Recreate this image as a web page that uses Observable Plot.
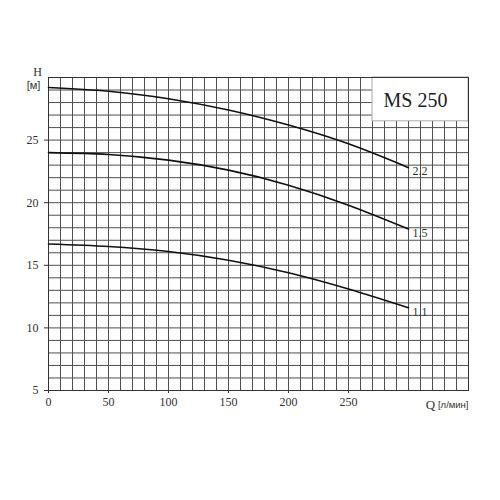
<!DOCTYPE html>
<html>
<head>
<meta charset="utf-8">
<script src="https://cdn.jsdelivr.net/npm/d3@7"></script>
<script src="https://cdn.jsdelivr.net/npm/@observablehq/plot@0.6"></script>
<style>
  body { margin: 0; background: #fff; }
</style>
</head>
<body>
<div id="chart"></div>
<script>
// Data
const flowQ = [0, 50, 100, 150, 200, 250, 300];
const head22 = [29.2, 28.9, 28.3, 27.4, 26.2, 24.7, 22.8];
const head15 = [24.0, 23.85, 23.4, 22.6, 21.4, 19.8, 17.9];
const head11 = [16.7, 16.5, 16.1, 15.4, 14.4, 13.1, 11.6];
const seriesNames = ["2.2", "1.5", "1.1"];
const xTicks = [0, 50, 100, 150, 200, 250];
const yTicks = [5, 10, 15, 20, 25];
const xGridValues = d3.range(0, 351, 10);
const yGridValues = d3.range(5, 31, 1);
const modelName = "MS 250";
const titleBox = [{q1: 270, q2: 350, h1: 26.5, h2: 30}];

const allSeries = [head22, head15, head11];
const rows = [];
allSeries.forEach((vals, i) => {
  vals.forEach((h, j) => rows.push({series: seriesNames[i], q: flowQ[j], h}));
});
const ends = allSeries.map((vals, i) => ({series: seriesNames[i], q: flowQ[flowQ.length - 1], h: vals[vals.length - 1]}));

const chart = Plot.plot({
  width: 500,
  height: 500,
  marginLeft: 48,
  marginRight: 32,
  marginTop: 77,
  marginBottom: 110,
  x: {domain: [0, 350]},
  y: {domain: [5, 30]},
  style: {fontFamily: "'Liberation Serif', 'DejaVu Serif', serif", fontSize: "12px", color: "#333", background: "#fff"},
  marks: [
    Plot.ruleX(xGridValues, {stroke: "#505050", strokeWidth: 1}),
    Plot.ruleY(yGridValues, {stroke: "#505050", strokeWidth: 1}),
    Plot.rect(titleBox, {x1: "q1", x2: "q2", y1: "h1", y2: "h2", fill: "white", stroke: "#aaa", strokeWidth: 1}),
    Plot.text([modelName], {frameAnchor: "top-right", dx: -53, dy: 23, fontSize: 20, fill: "#222", textAnchor: "middle", lineAnchor: "middle"}),
    Plot.frame({stroke: "#333"}),
    Plot.line(rows, {x: "q", y: "h", z: "series", stroke: "#111", strokeWidth: 1.6, curve: "natural"}),
    Plot.text(ends, {x: "q", y: "h", text: "series", dx: 4, dy: 4, textAnchor: "start", fontSize: 12, fill: "#333"}),
    Plot.axisX({ticks: xTicks, tickSize: 3, tickPadding: 4, label: null, fontSize: 12}),
    Plot.axisY({ticks: yTicks, tickSize: 4, tickPadding: 6, label: null, fontSize: 12}),
    Plot.text(["H"], {frameAnchor: "top-left", dx: -11, dy: -5, fontSize: 12, fill: "#333", textAnchor: "middle", lineAnchor: "middle"}),
    Plot.text(["[м]"], {frameAnchor: "top-left", dx: -15, dy: 8, fontSize: 11, fill: "#333", textAnchor: "middle", lineAnchor: "middle", fontFamily: "'Liberation Sans', sans-serif"}),
    Plot.text(["Q"], {frameAnchor: "bottom-right", dx: -38, dy: 14, fontSize: 13, fill: "#333", textAnchor: "middle", lineAnchor: "middle"}),
    Plot.text(["[л/мин]"], {frameAnchor: "bottom-right", dx: 0, dy: 14, fontSize: 9.5, fill: "#333", textAnchor: "end", lineAnchor: "middle", fontFamily: "'Liberation Sans', sans-serif"})
  ]
});
document.getElementById("chart").appendChild(chart);
</script>
</body>
</html>
